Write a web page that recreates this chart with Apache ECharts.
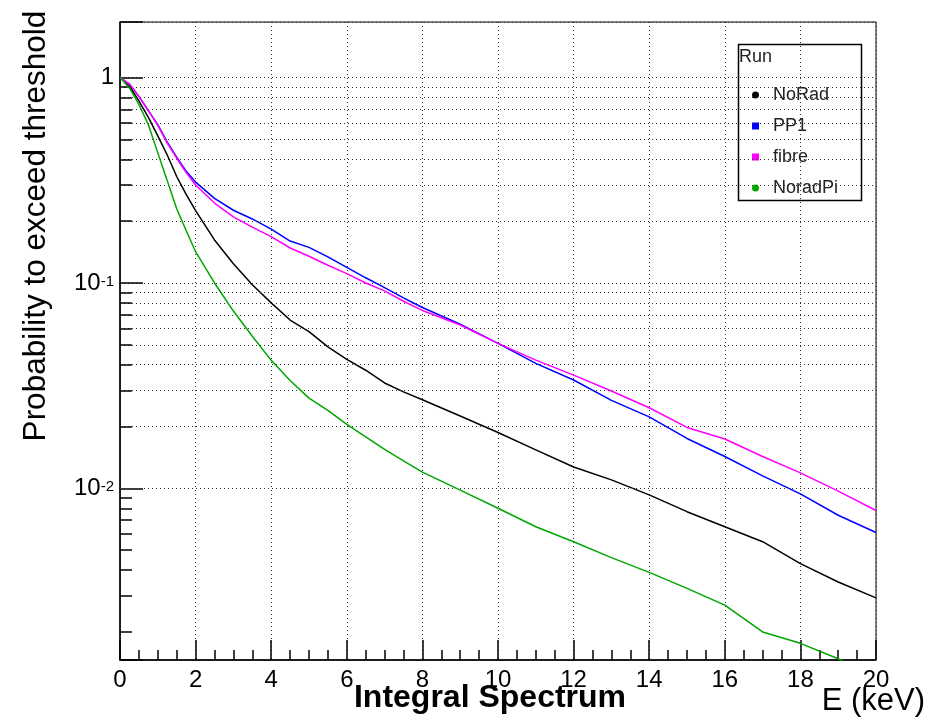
<!DOCTYPE html>
<html><head><meta charset="utf-8">
<script src="https://cdn.jsdelivr.net/npm/echarts@6/dist/echarts.min.js"></script>
<style>html,body{margin:0;padding:0;background:#fff}#c{width:947px;height:727px}</style>
</head><body><div id="c"></div>
<script>
// ---- data ----
const energies = [0,0.25,0.5,0.75,1,1.25,1.5,1.75,2,2.5,3,3.5,4,4.5,5,5.5,6,6.5,7,7.5,8,9,10,11,12,13,14,15,16,17,18,19,20];
const noRad   = [1,0.91,0.77,0.64,0.52,0.42,0.33,0.27,0.225,0.162,0.124,0.098,0.08,0.066,0.058,0.0489,0.0425,0.0376,0.0326,0.0295,0.027,0.0225,0.0187,0.0154,0.0127,0.011,0.0093,0.0077,0.0065,0.0055,0.0043,0.0035,0.00293];
const pp1     = [1,0.93,0.81,0.69,0.59,0.485,0.41,0.35,0.31,0.258,0.226,0.205,0.183,0.16,0.149,0.134,0.119,0.106,0.095,0.0847,0.076,0.063,0.0508,0.0406,0.0337,0.0268,0.0223,0.0175,0.0143,0.0115,0.0094,0.0074,0.0061];
const fibre   = [1,0.93,0.81,0.69,0.585,0.48,0.405,0.345,0.30,0.245,0.21,0.187,0.168,0.148,0.135,0.122,0.111,0.1,0.0915,0.0815,0.0735,0.0624,0.0508,0.0421,0.0356,0.0298,0.0247,0.0198,0.0174,0.0143,0.0119,0.0097,0.0078];
const noradPi = [1,0.89,0.74,0.59,0.43,0.315,0.23,0.18,0.142,0.1,0.073,0.055,0.042,0.0335,0.0275,0.024,0.0205,0.0178,0.0155,0.0136,0.012,0.0098,0.008,0.0065,0.0055,0.0046,0.0039,0.00326,0.0027,0.002,0.00176,0.00148,0.0012];
const seriesNames = ['NoRad','PP1','fibre','NoradPi'];
const xMin = 0, xMax = 20, xStep = 2;
const yMin = 0.00146, yMax = 1.865;

// ---- styling ----
const FONT = 'Liberation Sans, Arial, Helvetica, sans-serif';
const colors = ['#000000','#0000ff','#ff00ff','#00a600'];
const icons = ['circle','rect','rect','circle'];
const grid = {left:120, right:71, top:22, bottom:67};
const plotW = 947 - grid.left - grid.right;
const dotted = {color:'#333', width:1, type:[1,3]};

// minor log gridlines (2..9 x 10^d)
const minorVals = [];
for (let d = -3; d <= 0; d++) for (let k = 2; k <= 9; k++) {
  const v = +(k * Math.pow(10, d)).toPrecision(6);
  if (v > yMin && v < yMax) minorVals.push(v);
}
const minorTickLen = 12 * (xMax - xMin) / plotW;

const chart = echarts.init(document.getElementById('c'), null, {renderer:'canvas'});
const allData = [noRad, pp1, fibre, noradPi];
const series = allData.map((arr, i) => ({
  name: seriesNames[i],
  type: 'line',
  data: energies.map((e, j) => [e, arr[j]]),
  showSymbol: false,
  symbol: 'none',
  clip: true,
  color: colors[i],
  lineStyle: {color: colors[i], width: 1.5},
  z: 3 + i
}));
series[0].markLine = {
  silent: true, symbol: 'none', animation: false,
  label: {show: false},
  lineStyle: dotted,
  data: minorVals.map(v => ({yAxis: v}))
};
series[1].markLine = {
  silent: true, symbol: 'none', animation: false,
  label: {show: false},
  lineStyle: {color: '#000', width: 1.5, type: 'solid'},
  data: minorVals.map(v => [{coord: [xMin, v]}, {coord: [xMin + minorTickLen, v]}])
};

chart.setOption({
  animation: false,
  backgroundColor: '#fff',
  textStyle: {fontFamily: FONT},
  grid: Object.assign({show: true, borderColor: '#000', borderWidth: 1, backgroundColor: 'transparent'}, grid),
  xAxis: {
    type: 'value', min: xMin, max: xMax, interval: xStep,
    axisLine: {show: true, onZero: false, lineStyle: {color: '#000', width: 1.5}},
    axisTick: {show: true, inside: true, length: 20, lineStyle: {color: '#000', width: 1.5}},
    minorTick: {show: true, splitNumber: 4, length: 10, lineStyle: {color: '#000', width: 1.5}},
    splitLine: {show: true, lineStyle: dotted},
    axisLabel: {fontSize: 24, color: '#000', margin: 8, fontFamily: FONT}
  },
  yAxis: {
    type: 'log', logBase: 10, min: yMin, max: yMax,
    axisLine: {show: true, lineStyle: {color: '#000', width: 1.5}},
    axisTick: {show: true, inside: true, length: 23, lineStyle: {color: '#000', width: 1.5}},
    splitLine: {show: true, lineStyle: dotted},
    axisLabel: {
      margin: 6, color: '#000', fontFamily: FONT,
      formatter: function (val) {
        const l = Math.log10(val), r = Math.round(l);
        if (Math.abs(l - r) > 1e-6) return '';
        if (r === 0) return '{b|1}';
        return '{b|10}{s|' + r + '}';
      },
      rich: {
        b: {fontSize: 24, lineHeight: 24, padding: [10, 0, 0, 0], verticalAlign: 'bottom', color: '#000', fontFamily: FONT},
        s: {fontSize: 15, lineHeight: 15, padding: [3, 0, 0, 0], verticalAlign: 'top', color: '#000', fontFamily: FONT}
      }
    }
  },
  legend: {
    orient: 'vertical', left: 747, top: 80,
    itemWidth: 7, itemHeight: 7, itemGap: 11,
    selectedMode: false,
    textStyle: {fontSize: 18, lineHeight: 20, color: '#222', fontFamily: FONT, padding: [0, 0, 0, 9]},
    data: seriesNames.map((n, i) => ({name: n, icon: icons[i]}))
  },
  graphic: [
    {type: 'rect', left: 736, top: 42, shape: {x: 0, y: 0, width: 123, height: 156},
     style: {fill: 'none', stroke: '#000', lineWidth: 1.5}, z: 10},
    {type: 'text', x: 739, y: 57, z: 10,
     style: {text: 'Run', fontSize: 18, fontFamily: FONT, fill: '#222', align: 'left', textAlign: 'left', verticalAlign: 'middle', textVerticalAlign: 'middle'}},
    {type: 'text', x: 490, y: 698, z: 10,
     style: {text: 'Integral Spectrum', fontSize: 32, fontWeight: 'bold', fontFamily: FONT, fill: '#000', align: 'center', textAlign: 'center', verticalAlign: 'middle', textVerticalAlign: 'middle'}},
    {type: 'text', x: 925, y: 701, z: 10,
     style: {text: 'E (keV)', fontSize: 31, fontFamily: FONT, fill: '#000', align: 'right', textAlign: 'right', verticalAlign: 'middle', textVerticalAlign: 'middle'}},
    {type: 'text', x: 36, y: 226, rotation: Math.PI / 2, z: 10,
     style: {text: 'Probability to exceed threshold', fontSize: 31.5, fontFamily: FONT, fill: '#000', align: 'center', textAlign: 'center', verticalAlign: 'middle', textVerticalAlign: 'middle'}}
  ],
  series: series
});
</script></body></html>
